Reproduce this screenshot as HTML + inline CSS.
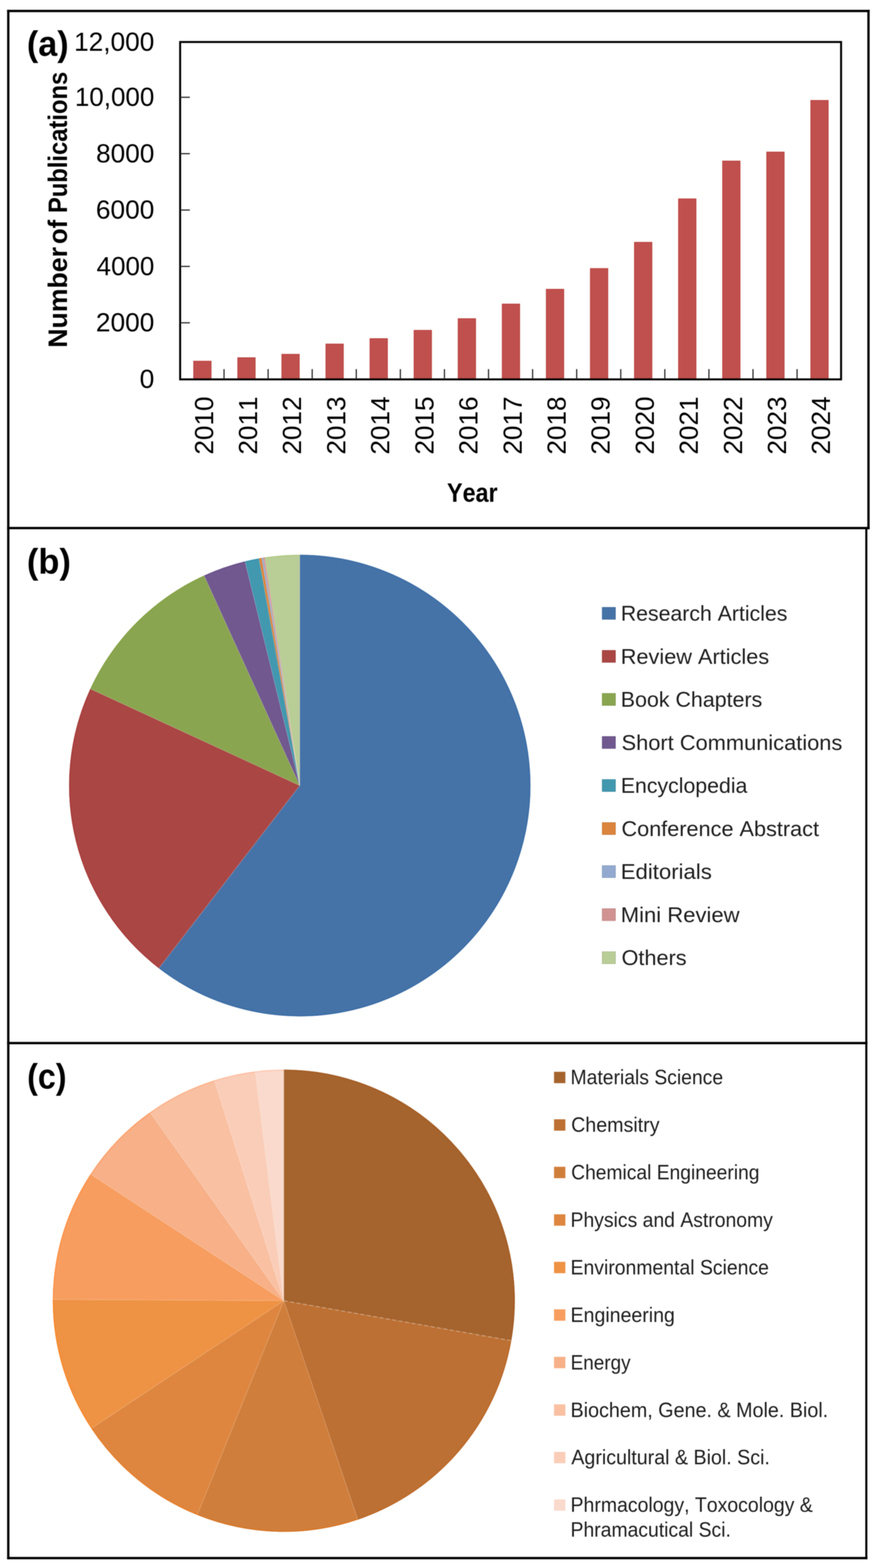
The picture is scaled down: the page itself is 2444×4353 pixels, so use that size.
<!DOCTYPE html><html><head><meta charset="utf-8"><title>Publications figure</title><style>html,body{margin:0;padding:0;background:#fff}svg{display:block;filter:blur(1.1px)}text{font-family:'Liberation Sans', sans-serif;font-kerning:none}</style></head><body>
<svg width="2444" height="4353" viewBox="0 0 2444 4353">
<rect x="0" y="0" width="2444" height="4353" fill="#fff"/>
<rect x="537.81" y="1002.60" width="48.6" height="50.60" fill="#C0504D" stroke="#B83C38" stroke-width="1.8"/>
<rect x="660.23" y="993.00" width="48.6" height="60.20" fill="#C0504D" stroke="#B83C38" stroke-width="1.8"/>
<rect x="782.65" y="983.50" width="48.6" height="69.70" fill="#C0504D" stroke="#B83C38" stroke-width="1.8"/>
<rect x="905.07" y="955.00" width="48.6" height="98.20" fill="#C0504D" stroke="#B83C38" stroke-width="1.8"/>
<rect x="1027.49" y="940.00" width="48.6" height="113.20" fill="#C0504D" stroke="#B83C38" stroke-width="1.8"/>
<rect x="1149.91" y="917.00" width="48.6" height="136.20" fill="#C0504D" stroke="#B83C38" stroke-width="1.8"/>
<rect x="1272.33" y="884.60" width="48.6" height="168.60" fill="#C0504D" stroke="#B83C38" stroke-width="1.8"/>
<rect x="1394.75" y="844.00" width="48.6" height="209.20" fill="#C0504D" stroke="#B83C38" stroke-width="1.8"/>
<rect x="1517.17" y="803.00" width="48.6" height="250.20" fill="#C0504D" stroke="#B83C38" stroke-width="1.8"/>
<rect x="1639.59" y="745.40" width="48.6" height="307.80" fill="#C0504D" stroke="#B83C38" stroke-width="1.8"/>
<rect x="1762.01" y="672.60" width="48.6" height="380.60" fill="#C0504D" stroke="#B83C38" stroke-width="1.8"/>
<rect x="1884.43" y="552.00" width="48.6" height="501.20" fill="#C0504D" stroke="#B83C38" stroke-width="1.8"/>
<rect x="2006.85" y="447.00" width="48.6" height="606.20" fill="#C0504D" stroke="#B83C38" stroke-width="1.8"/>
<rect x="2129.27" y="422.00" width="48.6" height="631.20" fill="#C0504D" stroke="#B83C38" stroke-width="1.8"/>
<rect x="2251.69" y="278.70" width="48.6" height="774.50" fill="#C0504D" stroke="#B83C38" stroke-width="1.8"/>
<rect x="500.30" y="116.60" width="1835.60" height="936.60" fill="none" stroke="#000" stroke-width="5.5"/>
<line x1="500.30" y1="896.10" x2="527.30" y2="896.10" stroke="#222" stroke-width="3.2"/>
<line x1="500.30" y1="739.60" x2="527.30" y2="739.60" stroke="#222" stroke-width="3.2"/>
<line x1="500.30" y1="583.10" x2="527.30" y2="583.10" stroke="#222" stroke-width="3.2"/>
<line x1="500.30" y1="426.60" x2="527.30" y2="426.60" stroke="#222" stroke-width="3.2"/>
<line x1="500.30" y1="270.10" x2="527.30" y2="270.10" stroke="#222" stroke-width="3.2"/>
<line x1="622.22" y1="1053.20" x2="622.22" y2="1024.70" stroke="#222" stroke-width="3.2"/>
<line x1="744.64" y1="1053.20" x2="744.64" y2="1024.70" stroke="#222" stroke-width="3.2"/>
<line x1="867.06" y1="1053.20" x2="867.06" y2="1024.70" stroke="#222" stroke-width="3.2"/>
<line x1="989.48" y1="1053.20" x2="989.48" y2="1024.70" stroke="#222" stroke-width="3.2"/>
<line x1="1111.90" y1="1053.20" x2="1111.90" y2="1024.70" stroke="#222" stroke-width="3.2"/>
<line x1="1234.32" y1="1053.20" x2="1234.32" y2="1024.70" stroke="#222" stroke-width="3.2"/>
<line x1="1356.74" y1="1053.20" x2="1356.74" y2="1024.70" stroke="#222" stroke-width="3.2"/>
<line x1="1479.16" y1="1053.20" x2="1479.16" y2="1024.70" stroke="#222" stroke-width="3.2"/>
<line x1="1601.58" y1="1053.20" x2="1601.58" y2="1024.70" stroke="#222" stroke-width="3.2"/>
<line x1="1724.00" y1="1053.20" x2="1724.00" y2="1024.70" stroke="#222" stroke-width="3.2"/>
<line x1="1846.42" y1="1053.20" x2="1846.42" y2="1024.70" stroke="#222" stroke-width="3.2"/>
<line x1="1968.84" y1="1053.20" x2="1968.84" y2="1024.70" stroke="#222" stroke-width="3.2"/>
<line x1="2091.26" y1="1053.20" x2="2091.26" y2="1024.70" stroke="#222" stroke-width="3.2"/>
<line x1="2213.68" y1="1053.20" x2="2213.68" y2="1024.70" stroke="#222" stroke-width="3.2"/>
<text x="387.83" y="1076.60" font-size="73" fill="#000" textLength="40.84" lengthAdjust="spacingAndGlyphs">0</text>
<text x="266.33" y="920.10" font-size="73" fill="#000" textLength="162.32" lengthAdjust="spacingAndGlyphs">2000</text>
<text x="268.35" y="763.60" font-size="73" fill="#000" textLength="160.27" lengthAdjust="spacingAndGlyphs">4000</text>
<text x="266.29" y="607.10" font-size="73" fill="#000" textLength="162.36" lengthAdjust="spacingAndGlyphs">6000</text>
<text x="266.84" y="450.60" font-size="73" fill="#000" textLength="161.80" lengthAdjust="spacingAndGlyphs">8000</text>
<text x="207.90" y="294.10" font-size="73" fill="#000" textLength="220.72" lengthAdjust="spacingAndGlyphs">10,000</text>
<text x="205.65" y="140.60" font-size="73" fill="#000" textLength="223.00" lengthAdjust="spacingAndGlyphs">12,000</text>
<text transform="translate(591.61,1262.05) rotate(-90)" x="0" y="0" font-size="73" fill="#000" textLength="161.38" lengthAdjust="spacingAndGlyphs">2010</text>
<text transform="translate(714.03,1262.05) rotate(-90)" x="0" y="0" font-size="73" fill="#000" textLength="161.38" lengthAdjust="spacingAndGlyphs">2011</text>
<text transform="translate(836.45,1262.05) rotate(-90)" x="0" y="0" font-size="73" fill="#000" textLength="161.38" lengthAdjust="spacingAndGlyphs">2012</text>
<text transform="translate(958.87,1262.05) rotate(-90)" x="0" y="0" font-size="73" fill="#000" textLength="161.38" lengthAdjust="spacingAndGlyphs">2013</text>
<text transform="translate(1081.29,1262.05) rotate(-90)" x="0" y="0" font-size="73" fill="#000" textLength="161.38" lengthAdjust="spacingAndGlyphs">2014</text>
<text transform="translate(1203.71,1262.05) rotate(-90)" x="0" y="0" font-size="73" fill="#000" textLength="161.38" lengthAdjust="spacingAndGlyphs">2015</text>
<text transform="translate(1326.13,1262.05) rotate(-90)" x="0" y="0" font-size="73" fill="#000" textLength="161.38" lengthAdjust="spacingAndGlyphs">2016</text>
<text transform="translate(1448.55,1262.05) rotate(-90)" x="0" y="0" font-size="73" fill="#000" textLength="161.38" lengthAdjust="spacingAndGlyphs">2017</text>
<text transform="translate(1570.97,1262.05) rotate(-90)" x="0" y="0" font-size="73" fill="#000" textLength="161.38" lengthAdjust="spacingAndGlyphs">2018</text>
<text transform="translate(1693.39,1262.05) rotate(-90)" x="0" y="0" font-size="73" fill="#000" textLength="161.38" lengthAdjust="spacingAndGlyphs">2019</text>
<text transform="translate(1815.81,1262.05) rotate(-90)" x="0" y="0" font-size="73" fill="#000" textLength="161.38" lengthAdjust="spacingAndGlyphs">2020</text>
<text transform="translate(1938.23,1262.05) rotate(-90)" x="0" y="0" font-size="73" fill="#000" textLength="161.38" lengthAdjust="spacingAndGlyphs">2021</text>
<text transform="translate(2060.65,1262.05) rotate(-90)" x="0" y="0" font-size="73" fill="#000" textLength="161.38" lengthAdjust="spacingAndGlyphs">2022</text>
<text transform="translate(2183.07,1262.05) rotate(-90)" x="0" y="0" font-size="73" fill="#000" textLength="161.38" lengthAdjust="spacingAndGlyphs">2023</text>
<text transform="translate(2305.49,1262.05) rotate(-90)" x="0" y="0" font-size="73" fill="#000" textLength="161.38" lengthAdjust="spacingAndGlyphs">2024</text>
<text x="1241.59" y="1393.00" font-size="74" font-weight="bold" fill="#000" textLength="140.39" lengthAdjust="spacingAndGlyphs">Year</text>
<text transform="translate(186.00,965.45) rotate(-90)" x="0" y="0" font-size="74.7" font-weight="bold" fill="#000" textLength="279.67" lengthAdjust="spacingAndGlyphs">Number</text>
<text transform="translate(186.00,677.48) rotate(-90)" x="0" y="0" font-size="74.7" font-weight="bold" fill="#000" textLength="67.14" lengthAdjust="spacingAndGlyphs">of</text>
<text transform="translate(186.00,591.61) rotate(-90)" x="0" y="0" font-size="74.7" font-weight="bold" fill="#000" textLength="392.32" lengthAdjust="spacingAndGlyphs">Publications</text>
<text x="74.67" y="155.00" font-size="98" font-weight="bold" fill="#000" textLength="115.95" lengthAdjust="spacingAndGlyphs">(a)</text>
<path d="M832.50,2180.80 L832.50,1540.20 A640.6,640.6 0 1 1 441.20,2688.00 Z" fill="#4573A8"/>
<path d="M832.50,2180.80 L441.20,2688.00 A640.6,640.6 0 0 1 250.84,1912.40 Z" fill="#AA4644"/>
<path d="M832.50,2180.80 L250.84,1912.40 A640.6,640.6 0 0 1 566.85,1597.88 Z" fill="#8AA54F"/>
<path d="M832.50,2180.80 L566.85,1597.88 A640.6,640.6 0 0 1 680.46,1558.51 Z" fill="#71588F"/>
<path d="M832.50,2180.80 L680.46,1558.51 A640.6,640.6 0 0 1 719.39,1550.26 Z" fill="#4198AF"/>
<path d="M832.50,2180.80 L719.39,1550.26 A640.6,640.6 0 0 1 726.77,1548.99 Z" fill="#DB843D"/>
<path d="M832.50,2180.80 L726.77,1548.99 A640.6,640.6 0 0 1 731.18,1548.26 Z" fill="#93A9CF"/>
<path d="M832.50,2180.80 L731.18,1548.26 A640.6,640.6 0 0 1 735.38,1547.60 Z" fill="#D19392"/>
<path d="M832.50,2180.80 L735.38,1547.60 A640.6,640.6 0 0 1 832.50,1540.20 Z" fill="#B9CD96"/>
<path d="M832.50,1541.80 A639.0,639.0 0 1 1 442.18,2686.73" fill="none" stroke="#3C6DA5" stroke-width="3.2"/>
<path d="M442.18,2686.73 A639.0,639.0 0 0 1 252.29,1913.07" fill="none" stroke="#A73D3B" stroke-width="3.2"/>
<path d="M252.29,1913.07 A639.0,639.0 0 0 1 567.51,1599.33" fill="none" stroke="#85A246" stroke-width="3.2"/>
<path d="M567.51,1599.33 A639.0,639.0 0 0 1 680.84,1560.06" fill="none" stroke="#6B508B" stroke-width="3.2"/>
<path d="M680.84,1560.06 A639.0,639.0 0 0 1 719.67,1551.84" fill="none" stroke="#3794AD" stroke-width="3.2"/>
<path d="M719.67,1551.84 A639.0,639.0 0 0 1 727.03,1550.56" fill="none" stroke="#E37B27" stroke-width="3.2"/>
<path d="M727.03,1550.56 A639.0,639.0 0 0 1 731.44,1549.84" fill="none" stroke="#839ECE" stroke-width="3.2"/>
<path d="M731.44,1549.84 A639.0,639.0 0 0 1 735.62,1549.19" fill="none" stroke="#D08381" stroke-width="3.2"/>
<path d="M735.62,1549.19 A639.0,639.0 0 0 1 832.50,1541.80" fill="none" stroke="#B2CB86" stroke-width="3.2"/>
<line x1="832.50" y1="2180.80" x2="832.50" y2="1540.20" stroke="rgba(255,255,255,0.22)" stroke-width="1.5"/>
<line x1="832.50" y1="2180.80" x2="441.20" y2="2688.00" stroke="rgba(255,255,255,0.22)" stroke-width="1.5"/>
<line x1="832.50" y1="2180.80" x2="250.84" y2="1912.40" stroke="rgba(255,255,255,0.22)" stroke-width="1.5"/>
<line x1="832.50" y1="2180.80" x2="566.85" y2="1597.88" stroke="rgba(255,255,255,0.22)" stroke-width="1.5"/>
<line x1="832.50" y1="2180.80" x2="680.46" y2="1558.51" stroke="rgba(255,255,255,0.22)" stroke-width="1.5"/>
<line x1="832.50" y1="2180.80" x2="719.39" y2="1550.26" stroke="rgba(255,255,255,0.22)" stroke-width="1.5"/>
<line x1="832.50" y1="2180.80" x2="726.77" y2="1548.99" stroke="rgba(255,255,255,0.22)" stroke-width="1.5"/>
<line x1="832.50" y1="2180.80" x2="731.18" y2="1548.26" stroke="rgba(255,255,255,0.22)" stroke-width="1.5"/>
<line x1="832.50" y1="2180.80" x2="735.38" y2="1547.60" stroke="rgba(255,255,255,0.22)" stroke-width="1.5"/>
<text x="74.63" y="1591.70" font-size="98" font-weight="bold" fill="#000" textLength="122.24" lengthAdjust="spacingAndGlyphs">(b)</text>
<rect x="1672.6" y="1686.10" width="36.6" height="33.2" fill="#4573A8" stroke="#3E6797" stroke-width="1.5"/>
<text x="1724.16" y="1723.20" font-size="59" fill="#1e1e1e" textLength="462.58" lengthAdjust="spacingAndGlyphs">Research Articles</text>
<rect x="1672.6" y="1805.60" width="36.6" height="33.2" fill="#AA4644" stroke="#993F3D" stroke-width="1.5"/>
<text x="1724.05" y="1842.70" font-size="59" fill="#1e1e1e" textLength="412.12" lengthAdjust="spacingAndGlyphs">Review Articles</text>
<rect x="1672.6" y="1925.10" width="36.6" height="33.2" fill="#8AA54F" stroke="#7C9447" stroke-width="1.5"/>
<text x="1724.13" y="1962.20" font-size="59" fill="#1e1e1e" textLength="392.82" lengthAdjust="spacingAndGlyphs">Book Chapters</text>
<rect x="1672.6" y="2044.60" width="36.6" height="33.2" fill="#71588F" stroke="#654F80" stroke-width="1.5"/>
<text x="1726.25" y="2081.70" font-size="59" fill="#1e1e1e" textLength="613.14" lengthAdjust="spacingAndGlyphs">Short Communications</text>
<rect x="1672.6" y="2164.10" width="36.6" height="33.2" fill="#4198AF" stroke="#3A889D" stroke-width="1.5"/>
<text x="1724.15" y="2201.20" font-size="59" fill="#1e1e1e" textLength="351.55" lengthAdjust="spacingAndGlyphs">Encyclopedia</text>
<rect x="1672.6" y="2283.60" width="36.6" height="33.2" fill="#DB843D" stroke="#C57636" stroke-width="1.5"/>
<text x="1725.94" y="2320.70" font-size="59" fill="#1e1e1e" textLength="548.70" lengthAdjust="spacingAndGlyphs">Conference Abstract</text>
<rect x="1672.6" y="2403.10" width="36.6" height="33.2" fill="#93A9CF" stroke="#8498BA" stroke-width="1.5"/>
<text x="1723.95" y="2440.20" font-size="59" fill="#1e1e1e" textLength="252.97" lengthAdjust="spacingAndGlyphs">Editorials</text>
<rect x="1672.6" y="2522.60" width="36.6" height="33.2" fill="#D19392" stroke="#BC8483" stroke-width="1.5"/>
<text x="1723.98" y="2559.70" font-size="59" fill="#1e1e1e" textLength="329.97" lengthAdjust="spacingAndGlyphs">Mini Review</text>
<rect x="1672.6" y="2642.10" width="36.6" height="33.2" fill="#B9CD96" stroke="#A6B887" stroke-width="1.5"/>
<text x="1726.15" y="2679.20" font-size="59" fill="#1e1e1e" textLength="180.73" lengthAdjust="spacingAndGlyphs">Others</text>
<path d="M788.20,3611.00 L788.20,2969.50 A641.5,641.5 0 0 1 1420.05,3721.84 Z" fill="#A5632D"/>
<path d="M788.20,3611.00 L1420.05,3721.84 A641.5,641.5 0 0 1 993.87,4218.64 Z" fill="#BD7033"/>
<path d="M788.20,3611.00 L993.87,4218.64 A641.5,641.5 0 0 1 547.89,4205.79 Z" fill="#D07E3B"/>
<path d="M788.20,3611.00 L547.89,4205.79 A641.5,641.5 0 0 1 253.57,3965.53 Z" fill="#DE863F"/>
<path d="M788.20,3611.00 L253.57,3965.53 A641.5,641.5 0 0 1 146.71,3607.64 Z" fill="#EE9244"/>
<path d="M788.20,3611.00 L146.71,3607.64 A641.5,641.5 0 0 1 251.42,3259.74 Z" fill="#F79D5F"/>
<path d="M788.20,3611.00 L251.42,3259.74 A641.5,641.5 0 0 1 416.59,3088.10 Z" fill="#F7B087"/>
<path d="M788.20,3611.00 L416.59,3088.10 A641.5,641.5 0 0 1 595.30,2999.19 Z" fill="#F9C0A2"/>
<path d="M788.20,3611.00 L595.30,2999.19 A641.5,641.5 0 0 1 708.91,2974.42 Z" fill="#FACDB8"/>
<path d="M788.20,3611.00 L708.91,2974.42 A641.5,641.5 0 0 1 788.20,2969.50 Z" fill="#FADACC"/>
<path d="M788.20,2971.10 A639.9,639.9 0 0 1 1418.48,3721.57" fill="none" stroke="#A45D24" stroke-width="3.2"/>
<path d="M1418.48,3721.57 A639.9,639.9 0 0 1 993.36,4217.12" fill="none" stroke="#BB6929" stroke-width="3.2"/>
<path d="M993.36,4217.12 A639.9,639.9 0 0 1 548.49,4204.30" fill="none" stroke="#D67628" stroke-width="3.2"/>
<path d="M548.49,4204.30 A639.9,639.9 0 0 1 254.90,3964.65" fill="none" stroke="#E67D29" stroke-width="3.2"/>
<path d="M254.90,3964.65 A639.9,639.9 0 0 1 148.31,3607.65" fill="none" stroke="#F8892B" stroke-width="3.2"/>
<path d="M148.31,3607.65 A639.9,639.9 0 0 1 252.75,3260.61" fill="none" stroke="#FF9146" stroke-width="3.2"/>
<path d="M252.75,3260.61 A639.9,639.9 0 0 1 417.52,3089.40" fill="none" stroke="#FEA26D" stroke-width="3.2"/>
<path d="M417.52,3089.40 A639.9,639.9 0 0 1 595.78,3000.72" fill="none" stroke="#FEB188" stroke-width="3.2"/>
<path d="M595.78,3000.72 A639.9,639.9 0 0 1 709.11,2976.01" fill="none" stroke="#FEBD9F" stroke-width="3.2"/>
<path d="M709.11,2976.01 A639.9,639.9 0 0 1 788.20,2971.10" fill="none" stroke="#FCC9B3" stroke-width="3.2"/>
<line x1="788.20" y1="3611.00" x2="788.20" y2="2969.50" stroke="rgba(255,255,255,0.22)" stroke-width="1.5"/>
<line x1="788.20" y1="3611.00" x2="1420.05" y2="3721.84" stroke="rgba(255,255,255,0.30)" stroke-width="3" stroke-dasharray="11,7"/>
<line x1="788.20" y1="3611.00" x2="993.87" y2="4218.64" stroke="rgba(255,255,255,0.22)" stroke-width="1.5"/>
<line x1="788.20" y1="3611.00" x2="547.89" y2="4205.79" stroke="rgba(255,255,255,0.22)" stroke-width="1.5"/>
<line x1="788.20" y1="3611.00" x2="253.57" y2="3965.53" stroke="rgba(255,255,255,0.22)" stroke-width="1.5"/>
<line x1="788.20" y1="3611.00" x2="146.71" y2="3607.64" stroke="rgba(255,255,255,0.22)" stroke-width="1.5"/>
<line x1="788.20" y1="3611.00" x2="251.42" y2="3259.74" stroke="rgba(255,255,255,0.22)" stroke-width="1.5"/>
<line x1="788.20" y1="3611.00" x2="416.59" y2="3088.10" stroke="rgba(255,255,255,0.22)" stroke-width="1.5"/>
<line x1="788.20" y1="3611.00" x2="595.30" y2="2999.19" stroke="rgba(255,255,255,0.22)" stroke-width="1.5"/>
<line x1="788.20" y1="3611.00" x2="708.91" y2="2974.42" stroke="rgba(255,255,255,0.22)" stroke-width="1.5"/>
<text x="75.55" y="3021.50" font-size="98" font-weight="bold" fill="#000" textLength="109.20" lengthAdjust="spacingAndGlyphs">(c)</text>
<rect x="1538.7" y="2975.40" width="31.5" height="31.6" fill="#A5632D"/>
<text x="1584.60" y="3010.20" font-size="57.5" fill="#1e1e1e" textLength="423.69" lengthAdjust="spacingAndGlyphs">Materials Science</text>
<rect x="1538.7" y="3107.30" width="31.5" height="31.6" fill="#BD7033"/>
<text x="1586.23" y="3142.10" font-size="57.5" fill="#1e1e1e" textLength="245.48" lengthAdjust="spacingAndGlyphs">Chemsitry</text>
<rect x="1538.7" y="3239.20" width="31.5" height="31.6" fill="#D07E3B"/>
<text x="1586.29" y="3274.00" font-size="57.5" fill="#1e1e1e" textLength="522.96" lengthAdjust="spacingAndGlyphs">Chemical Engineering</text>
<rect x="1538.7" y="3371.10" width="31.5" height="31.6" fill="#DE863F"/>
<text x="1584.59" y="3405.90" font-size="57.5" fill="#1e1e1e" textLength="561.82" lengthAdjust="spacingAndGlyphs">Physics and Astronomy</text>
<rect x="1538.7" y="3503.00" width="31.5" height="31.6" fill="#EE9244"/>
<text x="1584.58" y="3537.80" font-size="57.5" fill="#1e1e1e" textLength="551.01" lengthAdjust="spacingAndGlyphs">Environmental Science</text>
<rect x="1538.7" y="3634.90" width="31.5" height="31.6" fill="#F79D5F"/>
<text x="1584.55" y="3669.70" font-size="57.5" fill="#1e1e1e" textLength="289.75" lengthAdjust="spacingAndGlyphs">Engineering</text>
<rect x="1538.7" y="3766.80" width="31.5" height="31.6" fill="#F7B087"/>
<text x="1584.68" y="3801.60" font-size="57.5" fill="#1e1e1e" textLength="166.72" lengthAdjust="spacingAndGlyphs">Energy</text>
<rect x="1538.7" y="3898.70" width="31.5" height="31.6" fill="#F9C0A2"/>
<text x="1584.51" y="3933.50" font-size="57.5" fill="#1e1e1e" textLength="715.60" lengthAdjust="spacingAndGlyphs">Biochem, Gene. &amp; Mole. Biol.</text>
<rect x="1538.7" y="4030.60" width="31.5" height="31.6" fill="#FACDB8"/>
<text x="1586.69" y="4065.40" font-size="57.5" fill="#1e1e1e" textLength="551.48" lengthAdjust="spacingAndGlyphs">Agricultural &amp; Biol. Sci.</text>
<rect x="1538.7" y="4162.50" width="31.5" height="31.6" fill="#FADACC"/>
<text x="1584.57" y="4197.30" font-size="57.5" fill="#1e1e1e" textLength="672.78" lengthAdjust="spacingAndGlyphs">Phrmacology, Toxocology &amp;</text>
<text x="1584.59" y="4265.5" font-size="57.5" fill="#1e1e1e" textLength="445.32" lengthAdjust="spacingAndGlyphs">Phramacutical Sci.</text>
<g stroke="#000" stroke-width="6.5" fill="none" stroke-linecap="square">
<line x1="23" y1="30.5" x2="2412" y2="30.5"/>
<line x1="23" y1="30.5" x2="23" y2="4325.5"/>
<line x1="2412" y1="30.5" x2="2412" y2="1466"/>
<line x1="23" y1="1466" x2="2412" y2="1466"/>
<line x1="2406" y1="1466" x2="2406" y2="4325.5" stroke-width="5.8"/>
<line x1="23" y1="2895.7" x2="2406" y2="2895.7"/>
<line x1="23" y1="4325.5" x2="2406" y2="4325.5"/>
</g>
</svg></body></html>
